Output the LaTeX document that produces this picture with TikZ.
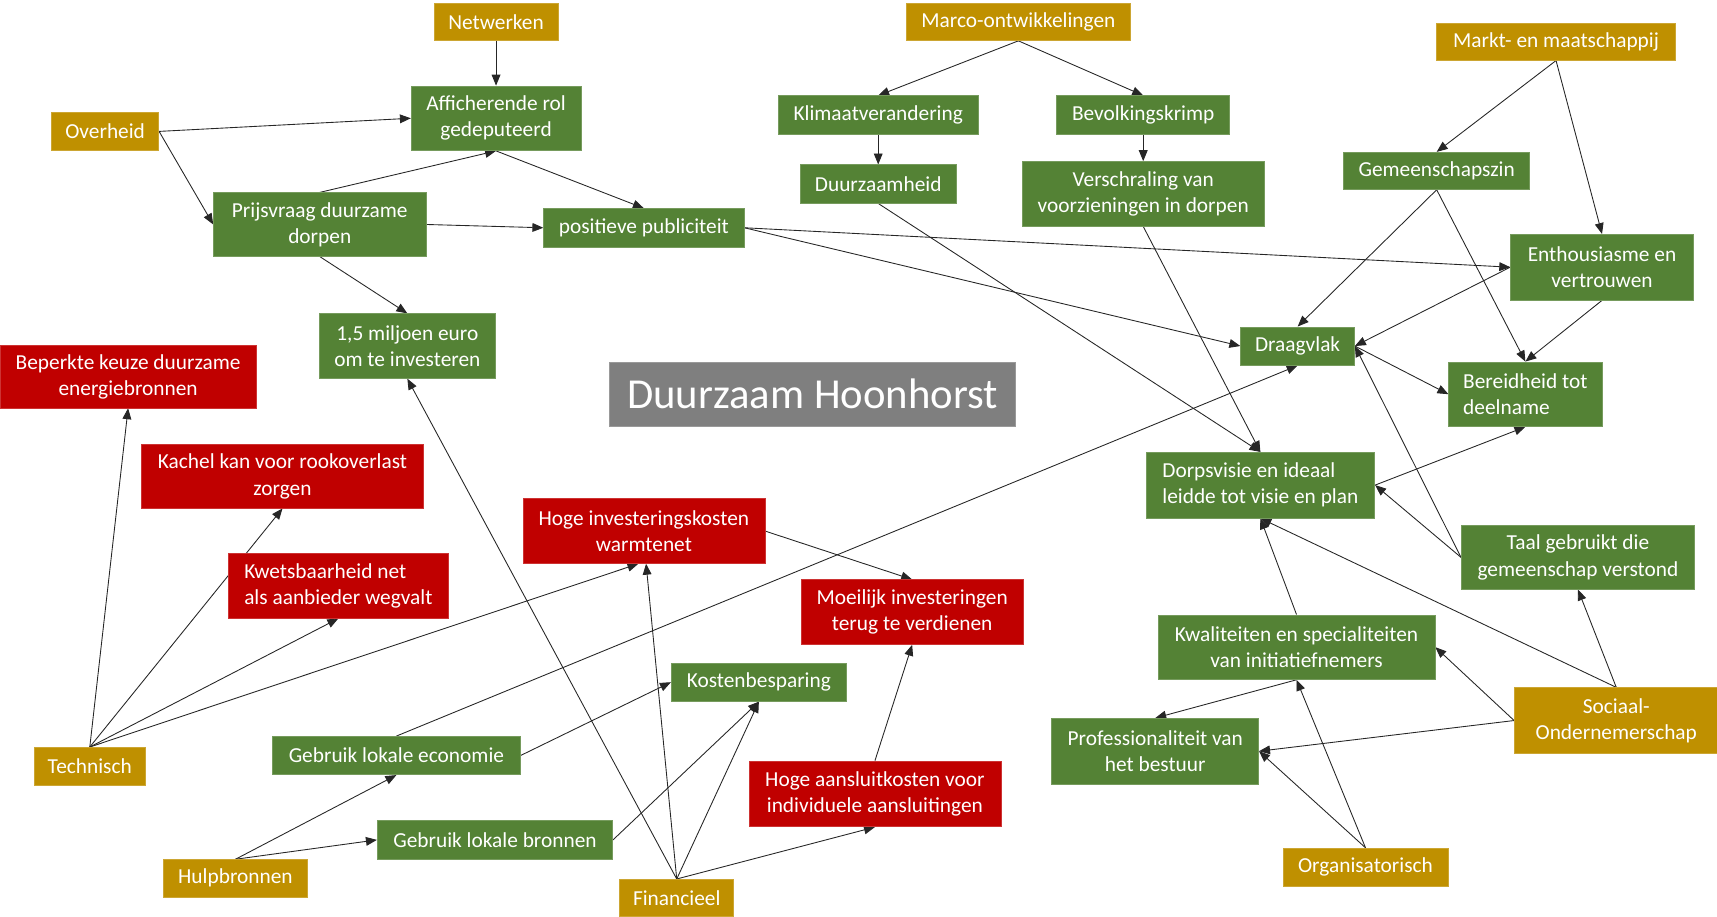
\documentclass[tikz,border=0pt]{standalone}
\usepackage{fontspec}
\setmainfont{Carlito}
\usetikzlibrary{arrows.meta,calc}
\pgfdeclarelayer{background}
\pgfsetlayers{background,main}
\definecolor{cgold}{HTML}{BF9000}
\definecolor{cgreen}{HTML}{548235}
\definecolor{cred}{HTML}{C00000}
\definecolor{cgray}{HTML}{7F7F7F}
\tikzset{
  box/.style 2 args={rectangle, inner sep=0pt, text=white, align=center,
    minimum width=#1pt, minimum height=#2pt,
    font=\fontsize{19.5}{24}\selectfont},
  gold/.style={fill=cgold, draw=cgold!80!white, line width=0.6pt},
  green/.style={fill=cgreen, draw=cgreen!80!white, line width=0.6pt},
  red/.style={fill=cred, draw=cred!80!white, line width=0.6pt},
  link/.style={draw=black!85, line width=0.8pt, -{Triangle[length=10pt,width=8pt]}}
}
\begin{document}
\begin{tikzpicture}[x=1pt,y=-1pt]
\useasboundingbox (0,0) rectangle (1568,837);

% categories
\node[gold, box={113}{34}] (net) at (453,20) {Netwerken};
\node[gold, box={205}{34}] (marco) at (930,20) {Marco-ontwikkelingen};
\node[gold, box={218}{34}] (markt) at (1421,38) {Markt- en maatschappij};
\node[gold, box={98}{35}] (over) at (96,120) {Overheid};
\node[gold, box={102}{35}] (tech) at (82,700) {Technisch};
\node[gold, box={132}{34}] (hulp) at (215,802) {Hulpbronnen};
\node[gold, box={104}{34}] (fin) at (618,820) {Financieel};
\node[gold, box={151}{35}] (org) at (1247,792) {Organisatorisch};
\node[gold, box={186}{60}] (soc) at (1476,658) {Sociaal-\\Ondernemerschap};

% positive factors
\node[green, box={155}{59}] (affi) at (453,108) {Afficherende rol\\gedeputeerd};
\node[green, box={182}{35}] (klim) at (802,105) {Klimaatverandering};
\node[green, box={158}{35}] (bev) at (1044,105) {Bevolkingskrimp};
\node[green, box={142}{35}] (duur) at (802,168) {Duurzaamheid};
\node[green, box={221}{59}] (versch) at (1044,177) {Verschraling van\\voorzieningen in dorpen};
\node[green, box={170}{34}] (gem) at (1312,156) {Gemeenschapszin};
\node[green, box={194}{58}] (prijs) at (292,205) {Prijsvraag duurzame\\dorpen};
\node[green, box={183}{35}] (pub) at (588,208) {positieve publiciteit};
\node[green, box={167}{60}] (enth) at (1463,244) {Enthousiasme en\\vertrouwen};
\node[green, box={161}{59}] (milj) at (372,316) {1,5 miljoen euro\\om te investeren};
\node[green, box={104}{35}] (draag) at (1185,316) {Draagvlak};
\node[green, box={140}{59}, align=left] (bereid) at (1393,360) {Bereidheid tot\\deelname};
\node[green, box={209}{60}, align=left] (dorps) at (1151,443) {Dorpsvisie en ideaal\\leidde tot visie en plan};
\node[green, box={213}{58}] (taal) at (1441,509) {Taal gebruikt die\\gemeenschap verstond};
\node[green, box={253}{59}] (kwal) at (1184,591) {Kwaliteiten en specialiteiten\\van initiatiefnemers};
\node[green, box={160}{35}] (kost) at (693,623) {Kostenbesparing};
\node[green, box={226}{35}] (econ) at (362,690) {Gebruik lokale economie};
\node[green, box={189}{60}] (prof) at (1055,686) {Professionaliteit van\\het bestuur};
\node[green, box={215}{35}] (bron) at (452,767) {Gebruik lokale bronnen};

% negative factors
\node[red, box={234}{57}] (beperk) at (117,344) {Beperkte keuze duurzame\\energiebronnen};
\node[red, box={258}{58}] (kachel) at (258,435) {Kachel kan voor rookoverlast\\zorgen};
\node[red, box={221}{59}] (hinv) at (588,485) {Hoge investeringskosten\\warmtenet};
\node[red, box={201}{59}, align=left] (kwets) at (309,535) {Kwetsbaarheid net\\als aanbieder wegvalt};
\node[red, box={203}{59}] (moeil) at (833,559) {Moeilijk investeringen\\terug te verdienen};
\node[red, box={230}{60}] (aansl) at (799,725) {Hoge aansluitkosten voor\\individuele aansluitingen};

% title
\node[rectangle, fill=cgray, draw=cgray!80!white, line width=0.6pt, text=white,
  minimum width=371pt, minimum height=59pt, inner sep=0pt,
  font=\fontsize{39}{45}\selectfont] (title) at (742,360) {Duurzaam Hoonhorst};

\begin{pgfonlayer}{background}
\path[link] (net.south) -- (affi.north);
\path[link] (over.east) -- (affi.west);
\path[link] (over.east) -- (prijs.west);
\path[link] (prijs.north) -- (affi.south);
\path[link] (affi.south) -- (pub.north);
\path[link] (prijs.east) -- (pub.west);
\path[link] (prijs.south) -- (milj.north);
\path[link] (marco.south) -- (klim.north);
\path[link] (marco.south) -- (bev.north);
\path[link] (klim.south) -- (duur.north);
\path[link] (bev.south) -- (versch.north);
\path[link] (duur.south) -- (dorps.north);
\path[link] (versch.south) -- (dorps.north);
\path[link] (pub.east) -- (enth.west);
\path[link] (pub.east) -- (draag.west);
\path[link] (markt.south) -- (gem.north);
\path[link] (markt.south) -- (enth.north);
\path[link] (gem.south) -- (draag.north);
\path[link] (gem.south) -- (bereid.north);
\path[link] (enth.south) -- (bereid.north);
\path[link] (enth.west) -- (draag.east);
\path[link] (draag.east) -- (bereid.west);
\path[link] (taal.west) -- (draag.east);
\path[link] (taal.west) -- (dorps.east);
\path[link] (dorps.east) -- (bereid.south);
\path[link] (tech.north) -- (beperk.south);
\path[link] (tech.north) -- (kachel.south);
\path[link] (tech.north) -- (kwets.south);
\path[link] (tech.north) -- ($(hinv.south)+(-5,0)$);
\path[link] (econ.north) -- (draag.south);
\path[link] (fin.north) -- (milj.south);
\path[link] (fin.north) -- ($(hinv.south)+(2,0)$);
\path[link] (fin.north) -- (kost.south);
\path[link] (fin.north) -- (aansl.south);
\path[link] (bron.east) -- (kost.south);
\path[link] (econ.east) -- (kost.west);
\path[link] (hulp.north) -- (econ.south);
\path[link] (hulp.north) -- (bron.west);
\path[link] (hinv.east) -- (moeil.north);
\path[link] (aansl.north) -- (moeil.south);
\path[link] (soc.north) -- (taal.south);
\path[link] (soc.north) -- (dorps.south);
\path[link] (soc.west) -- (kwal.east);
\path[link] (soc.west) -- (prof.east);
\path[link] (kwal.north) -- (dorps.south);
\path[link] (kwal.south) -- (prof.north);
\path[link] (org.north) -- (prof.east);
\path[link] (org.north) -- (kwal.south);
\end{pgfonlayer}
\end{tikzpicture}
\end{document}
